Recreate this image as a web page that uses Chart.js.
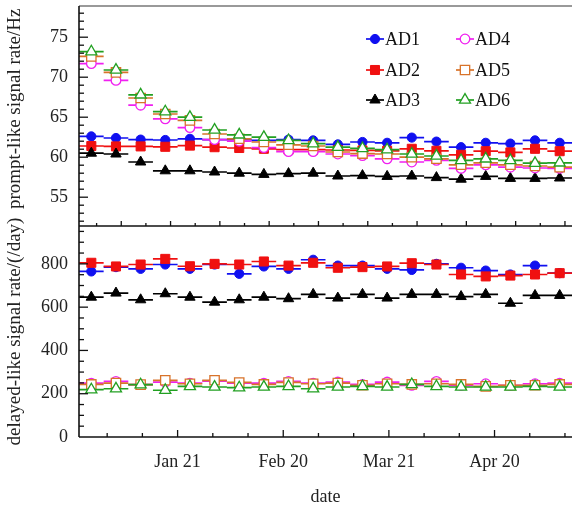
<!DOCTYPE html>
<html><head><meta charset="utf-8">
<script src="https://cdn.jsdelivr.net/npm/chart.js@4.4.1/dist/chart.umd.min.js"></script>
<style>html,body{margin:0;padding:0;background:#fff;overflow:hidden}#wrap{width:572px;height:508px;position:relative}</style>
</head><body><div id="wrap"><canvas id="c" width="572" height="508"></canvas></div>
<script>
// ---- data (days since 2011-12-24; weekly bins) ----
const seriesNames = ['AD1','AD2','AD3','AD4','AD5','AD6'];
const binCenters = [3.5,10.5,17.5,24.5,31.5,38.5,45.5,52.5,59.5,66.5,73.5,80.5,87.5,94.5,101.5,108.5,115.5,122.5,129.5,136.5];
const binHalfWidth = 3.5;
const xTickDays = [28, 58, 88, 118];
const xTickLabels = ['Jan 21','Feb 20','Mar 21','Apr 20'];
const promptTicks = [55, 60, 65, 70, 75];
const delayedTicks = [0, 200, 400, 600, 800];

const promptAD1 = [62.6,62.4,62.2,62.15,62.3,62.2,62.2,62.1,62.2,62.1,61.6,61.9,61.8,62.45,61.95,61.25,61.8,61.7,62.1,61.8];
const promptAD2 = [61.4,61.35,61.35,61.3,61.45,61.25,61.15,61.05,60.95,60.95,60.9,60.85,60.8,61.05,60.8,60.3,60.75,60.6,61.05,60.75];
const promptAD3 = [60.5,60.4,59.4,58.3,58.3,58.15,58.0,57.85,57.95,58.0,57.65,57.7,57.6,57.65,57.45,57.25,57.6,57.35,57.35,57.4];
const promptAD4 = [71.7,69.6,66.5,64.8,63.7,62.2,62.0,61.2,60.7,60.7,60.4,60.2,59.8,59.4,59.6,58.6,59.05,58.75,58.65,58.6];
const promptAD5 = [72.6,70.6,67.4,65.4,64.6,62.9,62.3,61.9,61.55,61.4,60.65,60.45,60.4,60.0,59.8,59.05,59.3,59.05,58.9,58.75];
const promptAD6 = [73.2,70.9,67.8,65.7,65.0,63.4,62.8,62.5,62.1,61.7,61.25,61.1,60.95,60.4,60.15,59.6,59.8,59.6,59.25,59.3];

const delayedAD1 = [765,785,777,797,777,797,754,788,777,819,792,792,777,772,800,782,769,751,792,757];
const delayedAD2 = [805,788,797,823,789,800,797,811,792,805,782,785,788,803,797,751,742,746,751,757];
const delayedAD3 = [646,665,634,662,646,623,634,646,639,659,642,659,642,659,659,649,659,618,654,654];
const delayedAD4 = [249,257,242,254,249,258,249,249,257,249,254,243,254,239,257,239,246,239,246,249];
const delayedAD5 = [243,249,242,262,246,262,252,243,252,246,249,239,246,243,246,243,234,239,239,243];
const delayedAD6 = [219,223,242,216,234,231,228,231,234,223,231,234,231,243,234,231,231,231,234,231];

const promptData = [promptAD1,promptAD2,promptAD3,promptAD4,promptAD5,promptAD6];
const delayedData = [delayedAD1,delayedAD2,delayedAD3,delayedAD4,delayedAD5,delayedAD6];

// ---- styles ----
const styles = [
  {color:'#1010f0', point:'circle',   r:4.6, filled:true},
  {color:'#f01010', point:'rect',     r:6.4, filled:true},
  {color:'#000000', point:'triangle', r:6.0, filled:true},
  {color:'#f020f0', point:'circle',   r:4.8, filled:false},
  {color:'#d8732a', point:'rect',     r:6.6, filled:false},
  {color:'#22a022', point:'triangle', r:6.4, filled:false}
];
const FONT = "'Liberation Serif','DejaVu Serif',serif";

function stepData(vals){
  const d = [];
  binCenters.forEach((c,i)=>{
    d.push({x:c-binHalfWidth,y:vals[i]},{x:c,y:vals[i]},{x:c+binHalfWidth,y:vals[i]},{x:c+binHalfWidth,y:null});
  });
  return d;
}
function makeDs(vals, i, axis){
  const s = styles[i];
  return {
    label: seriesNames[i], data: stepData(vals), yAxisID: axis, order: 6 - i,
    borderColor: s.color, borderWidth: 1.7, spanGaps: false, tension: 0, fill: false,
    pointStyle: s.point, pointBorderColor: s.color, pointBorderWidth: s.filled ? 1 : 1.3,
    pointBackgroundColor: s.filled ? s.color : '#ffffff',
    pointRadius: ctx => (ctx.dataIndex % 4 === 1 ? s.r : 0),
    pointHoverRadius: ctx => (ctx.dataIndex % 4 === 1 ? s.r : 0)
  };
}
const datasets = [];
promptData.forEach((v,i)=>datasets.push(makeDs(v,i,'yTop')));
delayedData.forEach((v,i)=>datasets.push(makeDs(v,i,'yBot')));

const framePlugin = {
  id: 'frame',
  afterDatasetsDraw(chart){
    const {ctx, chartArea:a, scales} = chart;
    const x = scales.x, yt = scales.yTop, yb = scales.yBot;
    const ln = (x1,y1,x2,y2)=>{ctx.beginPath();ctx.moveTo(x1,y1);ctx.lineTo(x2,y2);ctx.stroke();};
    ctx.save();
    ctx.lineWidth = 1.6; ctx.strokeStyle = '#777';
    ln(a.left, yt.top, a.right, yt.top);
    ctx.strokeStyle = '#111';
    ln(a.left, yt.top, a.left, yb.bottom);
    ln(a.left, yt.bottom, a.right, yt.bottom);
    ln(a.left, yb.bottom, a.right, yb.bottom);
    ctx.lineWidth = 1.3;
    for (let v = 52; v <= 78; v++) {
      const y = yt.getPixelForValue(v); const L = v % 5 === 0 ? 9 : 5;
      ln(a.left, y, a.left + L, y);
    }
    for (let v = 50; v <= 950; v += 50) {
      const y = yb.getPixelForValue(v); const L = v % 200 === 0 ? 9 : 5;
      ln(a.left, y, a.left + L, y);
    }
    for (let d = 8; d <= 138; d += 10) {
      const px = x.getPixelForValue(d); const L = xTickDays.includes(d) ? 7 : 4;
      ln(px, yb.bottom, px, yb.bottom - L);
    }
    for (let d = 5; d <= 138; d += 7) {
      const px = x.getPixelForValue(d); const L = (d - 12) % 14 === 0 ? 5 : 3;
      ln(px, yt.bottom, px, yt.bottom - L);
    }
    ctx.restore();
  },
  afterDraw(chart){
    const ctx = chart.ctx;
    const cols = [375, 465], rows = [39, 70, 100];
    ctx.save();
    ctx.font = "18px " + FONT; ctx.textBaseline = 'middle'; ctx.textAlign = 'left';
    seriesNames.forEach((n,i)=>{
      const s = styles[i]; const cx = cols[i < 3 ? 0 : 1], cy = rows[i % 3];
      ctx.strokeStyle = s.color; ctx.lineWidth = 1.7;
      ctx.beginPath(); ctx.moveTo(cx - 9, cy); ctx.lineTo(cx + 9, cy); ctx.stroke();
      ctx.fillStyle = s.filled ? s.color : '#ffffff';
      ctx.strokeStyle = s.color; ctx.lineWidth = s.filled ? 1 : 1.3;
      Chart.helpers.drawPoint(ctx, {pointStyle: s.point, radius: s.r, borderWidth: ctx.lineWidth, rotation: 0}, cx, cy);
      ctx.fillStyle = '#111';
      ctx.fillText(n, cx + 10, cy + 1);
    });
    ctx.restore();
  }
};

const tickFont = {family: FONT, size: 18};
const titleFont = {family: FONT, size: 19};
function yAxis(min, max, weight, ticksArr, title){
  return {
    type: 'linear', position: 'left', stack: 'panels', stackWeight: weight, min, max,
    grid: {display: false, drawTicks: false}, border: {display: false},
    afterBuildTicks: s => { s.ticks = ticksArr.map(v => ({value: v})); },
    ticks: {font: tickFont, color: '#222', padding: 11},
    title: {display: true, text: title, font: titleFont, color: '#222', padding: {top: 4, bottom: 0}},
    afterFit: s => { s.width = 79; s.paddingTop = 0; s.paddingBottom = 0; }
  };
}

new Chart(document.getElementById('c'), {
  type: 'line',
  data: {datasets},
  options: {
    responsive: false, animation: false, devicePixelRatio: 1,
    layout: {padding: {top: 6, right: 0, bottom: 0, left: 0}},
    plugins: {legend: {display: false}, tooltip: {enabled: false}},
    events: [],
    scales: {
      x: {
        type: 'linear', position: 'bottom', min: 0, max: 140,
        grid: {display: false, drawTicks: false}, border: {display: false},
        afterBuildTicks: s => { s.ticks = xTickDays.map(v => ({value: v})); },
        ticks: {font: tickFont, color: '#222', padding: 14, autoSkip: false, maxRotation: 0,
          callback: v => { const i = xTickDays.indexOf(v); return i >= 0 ? xTickLabels[i] : ''; }},
        title: {display: true, text: 'date', font: {family: FONT, size: 18}, color: '#222', padding: {top: 0, bottom: 0}},
        afterFit: s => { s.height = 71; s.paddingLeft = 0; s.paddingRight = 0; }
      },
      yBot: yAxis(0, 975, 211, delayedTicks, 'delayed-like signal rate/(/day)'),
      yTop: yAxis(51.4, 78.9, 220, promptTicks, '   prompt-like signal rate/Hz')
    }
  },
  plugins: [framePlugin]
});
</script></body></html>
